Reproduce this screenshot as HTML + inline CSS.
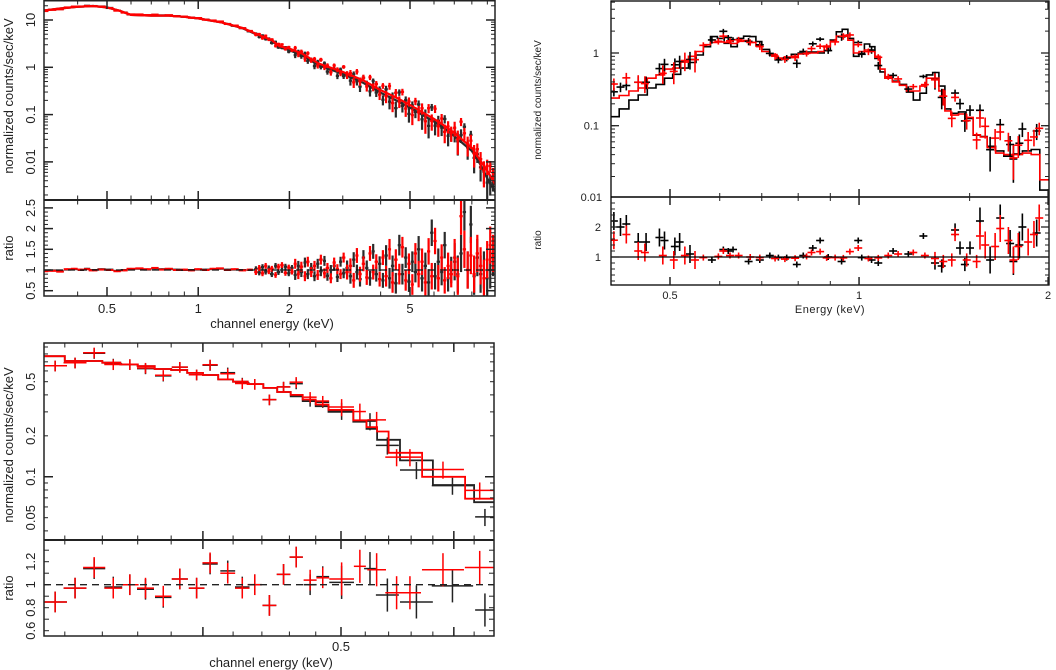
<!DOCTYPE html>
<html><head><meta charset="utf-8"><style>
html,body{margin:0;padding:0;background:#fff;}
svg{display:block;font-family:"Liberation Sans",sans-serif;}
</style></head><body>
<svg id="fig" width="1056" height="670" viewBox="0 0 1056 670" xmlns="http://www.w3.org/2000/svg">
<defs>
<clipPath id="c1t"><rect x="44" y="0" width="451" height="200"/></clipPath>
<clipPath id="c1r"><rect x="44" y="200" width="451" height="96"/></clipPath>
<clipPath id="c2t"><rect x="611" y="1" width="438" height="196"/></clipPath>
<clipPath id="c2r"><rect x="611" y="197" width="438" height="88"/></clipPath>
<clipPath id="c3t"><rect x="44" y="343" width="450" height="197"/></clipPath>
<clipPath id="c3r"><rect x="44" y="540" width="450" height="96"/></clipPath>
</defs>
<g id="root"></g>
</svg>
<script>
// ---------- Panel 1 data ----------
const p1ModelE = [0.3,0.35,0.4,0.45,0.5,0.55,0.6,0.7,0.8,0.9,1.0,1.2,1.4,1.6,1.75,1.85,2.0,2.2,2.5,3.0,3.5,4.0,4.5,5.0,5.5,6.0,6.5,7.0,7.5,8.0,8.5,9.0,9.6];
const p1ModelBlack = [15.5,17.5,19,19.8,18.5,15.7,12.8,12.4,12.3,11.7,10.8,8.8,6.7,4.6,3.65,2.7,2.3,1.8,1.1,0.72,0.47,0.29,0.2,0.14,0.098,0.071,0.051,0.035,0.024,0.0171,0.0092,0.0045,0.0022];
const p1ModelRed = [15.5,17.5,19,19.8,18.5,15.7,12.8,12.4,12.3,11.7,10.8,8.8,6.8,4.7,3.75,2.8,2.5,1.95,1.2,0.8,0.53,0.33,0.23,0.16,0.112,0.081,0.058,0.041,0.028,0.02,0.011,0.0065,0.0032];
const p1E = [0.31,0.33,0.35,0.37,0.39,0.41,0.43,0.45,0.48,0.51,0.54,0.57,0.6,0.64,0.68,0.72,0.76,0.8,0.85,0.9,0.95,1.0,1.06,1.12,1.18,1.25,1.32,1.4,1.48,
 1.55,1.59,1.63,1.67,1.71,1.75,1.8,1.84,1.89,1.94,1.99,2.04,2.09,2.14,2.19,2.25,2.3,2.36,2.42,2.48,2.54,2.61,2.67,2.74,2.81,2.88,2.95,3.02,3.1,3.18,3.26,3.34,3.42,3.51,3.6,3.69,3.78,3.87,3.97,4.07,4.17,4.28,4.38,4.49,4.61,4.72,4.84,4.96,5.09,5.21,5.34,5.48,5.62,5.76,5.9,6.05,6.2,6.36,6.51,6.68,6.84,7.02,7.19,7.37,7.56,7.75,7.94,8.14,8.34,8.55,8.77,8.99,9.2,9.4];
const p1RatioRed = [0.97,0.98,0.96,1.02,1.03,1.01,1.02,0.99,1.01,1.0,0.97,0.99,1.03,1.04,1.02,1.05,1.01,1.03,1.0,1.01,0.99,1.02,1.0,1.03,1.04,1.0,1.02,0.99,1.01,
 0.95,1.05,0.92,1.1,0.97,1.03,0.88,1.08,1.12,0.93,1.06,0.96,
 1.15,0.9,1.08,0.85,1.2,0.95,1.1,0.88,1.25,0.92,1.05,0.8,1.18,1.02,0.9,1.3,0.95,
 1.1,0.75,1.35,0.9,1.15,0.82,1.4,0.95,1.2,0.78,1.3,
 0.85,1.5,0.7,1.25,0.9,1.55,0.75,1.15,0.65,1.4,
 0.9,1.2,0.7,1.45,0.85,1.7,0.8,1.3,0.75,1.1,0.9,
 1.3,0.85,2.3,1.5,1.0,1.35,0.9,1.4,1.1,0.8,1.25,1.6,1.4];
const p1RatioBlack = [0.98,0.99,0.97,1.01,1.02,1.0,1.03,1.0,1.02,1.01,0.98,1.0,1.02,1.03,1.01,1.04,1.02,1.02,1.01,1.0,1.0,1.01,1.01,1.02,1.03,1.01,1.01,1.0,1.0,
 1.02,0.94,1.07,0.96,1.04,0.9,1.1,0.95,1.0,1.08,0.92,1.05,
 0.88,1.1,0.95,1.18,0.9,1.05,0.85,1.15,0.97,1.22,0.86,1.0,1.1,0.83,1.2,0.92,1.05,
 0.85,1.25,0.95,0.78,1.3,1.05,0.8,1.45,0.9,1.15,0.75,
 1.35,0.8,1.1,0.68,1.6,0.9,1.3,0.72,1.2,0.95,
 1.5,0.8,1.1,0.7,1.9,0.85,1.2,0.95,1.6,0.8,1.0,
 1.2,0.9,1.4,2.4,1.0,2.1,0.85,1.3,0.9,1.0,0.8,1.0,1.3];
const p1ErrEdges = [0,1.5,2.05,3.05,4.1,5.25,6.9,10];
const p1ErrVals = [0.02,0.07,0.12,0.18,0.25,0.32,0.45];
const p1XTicks = [0.5,1,2,5];
const p1XTickLabels = ["0.5","1","2","5"];
const p1YTicks = [0.01,0.1,1,10];
const p1YTickLabels = ["0.01","0.1","1","10"];
const p1RTicks = [0.5,1,1.5,2,2.5];
const p1RTickLabels = ["0.5","1","1.5","2","2.5"];

// ---------- Panel 2 data ----------
const p2ModelE = [0.40,0.415,0.43,0.445,0.46,0.475,0.49,0.505,0.52,0.535,0.55,0.565,0.58,0.595,0.61,0.625,0.64,0.655,0.67,0.685,0.70,0.72,0.74,0.76,0.78,0.80,0.83,0.86,0.88,0.90,0.92,0.94,0.96,0.98,1.00,1.02,1.04,1.06,1.08,1.10,1.13,1.16,1.19,1.22,1.25,1.28,1.31,1.34,1.37,1.40,1.44,1.48,1.52,1.56,1.60,1.65,1.70,1.76,1.82,1.88,1.94,2.01];
const p2ModelBlack = [0.133,0.17,0.225,0.264,0.33,0.37,0.45,0.51,0.62,0.74,0.94,1.22,1.68,1.59,1.36,1.22,1.59,1.7,1.68,1.44,1.12,0.94,0.82,0.87,0.96,1.0,1.03,1.0,1.08,1.51,1.96,2.12,1.59,0.9,0.98,1.33,1.22,0.84,0.55,0.45,0.41,0.37,0.29,0.225,0.28,0.50,0.54,0.35,0.17,0.148,0.155,0.126,0.074,0.071,0.052,0.045,0.038,0.041,0.045,0.047,0.013];
const p2ModelRed = [0.24,0.26,0.3,0.33,0.45,0.5,0.6,0.62,0.75,0.9,1.05,1.3,1.4,1.42,1.4,1.35,1.45,1.48,1.4,1.25,1.05,0.95,0.85,0.88,0.9,0.97,1.0,1.05,1.25,1.45,1.7,1.75,1.5,1.0,1.05,1.1,1.05,0.9,0.6,0.45,0.4,0.36,0.3,0.3,0.35,0.45,0.45,0.3,0.16,0.14,0.145,0.13,0.075,0.07,0.05,0.042,0.04,0.04,0.042,0.04,0.018];
const p2RedE = [0.407,0.426,0.445,0.456,0.487,0.507,0.528,0.548,0.565,0.597,0.608,0.623,0.643,0.671,0.695,0.735,0.762,0.791,0.825,0.840,0.867,0.888,0.916,0.944,0.967,0.997,1.035,1.073,1.113,1.154,1.220,1.273,1.321,1.362,1.405,1.422,1.484,1.539,1.558,1.588,1.647,1.678,1.729,1.761,1.793,1.859,1.899,1.936];
const p2RedRatio = [1.56,1.75,1.2,1.15,1.05,0.9,1.05,0.9,0.98,1.02,1.2,1.05,1.05,1.0,0.98,0.95,0.93,0.96,1.02,1.15,1.18,0.97,0.98,0.97,1.18,1.3,0.95,0.97,1.05,1.1,1.15,1.05,0.95,0.85,0.9,1.75,0.9,0.85,1.7,1.4,1.35,1.95,1.55,0.9,1.35,1.5,1.75,2.3];
const p2BlackE = [0.407,0.417,0.426,0.445,0.458,0.481,0.49,0.509,0.518,0.538,0.583,0.608,0.619,0.630,0.667,0.695,0.721,0.744,0.767,0.796,0.815,0.844,0.867,0.893,0.938,0.997,1.01,1.047,1.073,1.133,1.198,1.266,1.321,1.354,1.422,1.448,1.474,1.502,1.558,1.617,1.678,1.740,1.761,1.800,1.82,1.918];
const p2BlackRatio = [2.2,2.0,2.1,1.5,1.5,1.65,1.55,1.35,1.5,1.1,0.9,1.25,1.2,1.25,0.85,0.9,1.05,0.98,0.98,0.75,1.05,1.3,1.55,1.0,0.85,1.55,0.98,0.9,0.8,1.2,1.1,1.7,0.8,0.7,1.9,1.3,0.75,1.3,2.2,0.9,2.3,1.45,0.85,1.4,2.0,1.8];
const p2ErrEdges = [0,0.55,1.3,1.55,3];
const p2ErrVals = [0.3,0.1,0.22,0.45];
const p2XTicks = [0.5,1,2];
const p2XTickLabels = ["0.5","1","2"];
const p2YTicks = [0.1,1];
const p2YTickLabels = ["0.1","1"];
const p2RTicks = [1,2];
const p2RTickLabels = ["1","2"];

// ---------- Panel 3 data ----------
const p3EdgesBlack = [0.309,0.320,0.340,0.350,0.360,0.370,0.380,0.390,0.400,0.410,0.420,0.430,0.441,0.451,0.461,0.470,0.480,0.490,0.510,0.521,0.530,0.550,0.580,0.620,0.641];
const p3ModelBlack = [0.77,0.71,0.69,0.67,0.65,0.62,0.61,0.58,0.56,0.52,0.5,0.48,0.45,0.42,0.39,0.36,0.33,0.30,0.254,0.225,0.187,0.132,0.087,0.065];
const p3EdgesRed = [0.309,0.320,0.340,0.350,0.360,0.370,0.380,0.390,0.400,0.410,0.420,0.430,0.441,0.451,0.461,0.470,0.480,0.490,0.510,0.521,0.530,0.540,0.570,0.611,0.641];
const p3ModelRed = [0.77,0.71,0.69,0.67,0.65,0.62,0.61,0.58,0.56,0.52,0.5,0.48,0.45,0.42,0.40,0.37,0.34,0.31,0.26,0.232,0.215,0.15,0.10,0.069];
const p3RedE = [0.3151,0.3254,0.3356,0.3461,0.3555,0.3646,0.3752,0.3854,0.3960,0.4047,0.4164,0.4263,0.4350,0.4454,0.4557,0.4651,0.4757,0.4855,0.5006,0.5155,0.5297,0.5471,0.5590,0.5899,0.6258];
const p3RedRatio = [0.85,0.97,1.15,0.97,1.0,0.97,0.9,1.05,0.97,1.19,1.1,0.97,1.0,0.82,1.09,1.24,1.04,1.06,1.05,1.16,1.13,0.93,0.93,1.13,1.15];
const p3RedXErr = [0.006,0.006,0.006,0.005,0.005,0.005,0.005,0.005,0.005,0.005,0.005,0.005,0.005,0.005,0.005,0.005,0.005,0.005,0.01,0.005,0.008,0.01,0.01,0.02,0.015];
const p3BlackE = [0.3151,0.3254,0.3356,0.3461,0.3555,0.3646,0.3752,0.3854,0.3960,0.4047,0.4164,0.4263,0.4350,0.4454,0.4557,0.4651,0.4757,0.4855,0.5006,0.524,0.539,0.565,0.599,0.631];
const p3BlackRatio = [0.85,0.97,1.14,0.98,1.0,0.96,0.89,1.05,0.97,1.18,1.12,0.98,1.0,0.82,1.09,1.24,1.0,1.07,1.02,1.14,0.91,0.85,0.99,0.78];
const p3BlackXErr = [0.006,0.006,0.006,0.005,0.005,0.005,0.005,0.005,0.005,0.005,0.005,0.005,0.005,0.005,0.005,0.005,0.005,0.005,0.01,0.005,0.01,0.015,0.02,0.01];
const p3XTicks = [0.4,0.5,0.6];
const p3XTickLabels = ["","0.5",""];
const p3YTicks = [0.05,0.1,0.2,0.5];
const p3YTickLabels = ["0.05","0.1","0.2","0.5"];
const p3RTicks = [0.6,0.8,1,1.2];
const p3RTickLabels = ["0.6","0.8","1","1.2"];

// ---------- helpers ----------
const NS = "http://www.w3.org/2000/svg";
const root = document.getElementById('root');
function mk(tag, attrs, parent){ const e=document.createElementNS(NS,tag); for(const k in attrs) e.setAttribute(k,attrs[k]); (parent||root).appendChild(e); return e; }
function grp(name, clip){ const g=mk('g', clip?{'clip-path':'url(#'+clip+')'}:{});
  
  
  return g; }
const L = Math.log10;
function logX(v0,px0,ppd){ return v=>px0+ppd*L(v/v0); }
function interpLog(E, V, e){
  if(e<=E[0]) return V[0];
  for(let i=1;i<E.length;i++){ if(e<=E[i]){ const t=(L(e)-L(E[i-1]))/(L(E[i])-L(E[i-1])); return Math.pow(10, L(V[i-1])+t*(L(V[i])-L(V[i-1]))); } }
  return V[V.length-1];
}
function stepVal(E, V, e){ for(let i=V.length-1;i>=0;i--){ if(e>=E[i]) return V[i]; } return V[0]; }
function band(edges, vals, e){ for(let i=0;i<vals.length;i++){ if(e<edges[i+1]) return vals[i]; } return vals[vals.length-1]; }
function cross(g, x1,x2,y, yTop,yBot, col, w){
  mk('line',{x1:x1,x2:x2,y1:y,y2:y,stroke:col,'stroke-width':w},g);
  mk('line',{x1:(x1+x2)/2,x2:(x1+x2)/2,y1:yTop,y2:yBot,stroke:col,'stroke-width':w},g);
}
function stepPath(edges, vals, sx, sy){ let d=''; for(let i=0;i<vals.length;i++){ const x1=sx(edges[i]), x2=sx(edges[i+1]), y=sy(vals[i]); d+=(i===0?'M':'L')+x1.toFixed(1)+','+y.toFixed(1)+'L'+x2.toFixed(1)+','+y.toFixed(1); } return d; }
function tickLine(g,x1,y1,x2,y2,w){ mk('line',{x1:x1,y1:y1,x2:x2,y2:y2,stroke:'#222','stroke-width':w||1},g); }
function text(g, x, y, s, opts){
  const t = mk('text', Object.assign({x:x,y:y,'font-size':13,fill:'#222','text-anchor':'middle'}, opts||{}), g);
  t.textContent = s; return t;
}
function xLogTicks(g, sx, lo, hi, yTopEdge, yBotEdge, majors, minorList, len){
  minorList.forEach(v=>{ if(v>lo&&v<hi){ const x=sx(v); tickLine(g,x,yTopEdge,x,yTopEdge+len/2); tickLine(g,x,yBotEdge,x,yBotEdge-len/2);} });
  majors.forEach(v=>{ const x=sx(v); tickLine(g,x,yTopEdge,x,yTopEdge+len,1.5); tickLine(g,x,yBotEdge,x,yBotEdge-len,1.5); });
}
function yTicks(g, sy, vals, xl, xr, len, w){ vals.forEach(v=>{ const y=sy(v); tickLine(g,xl,y,xl+len,y,w); tickLine(g,xr,y,xr-len,y,w); }); }
function logMinors(lo,hi){ const out=[]; for(let d=Math.floor(L(lo));d<=Math.ceil(L(hi));d++){ for(let k=1;k<10;k++){ const v=k*Math.pow(10,d); if(v>=lo&&v<=hi) out.push(v);} } return out; }
function linMinors(lo,hi,step){ const out=[]; for(let v=Math.ceil(lo/step)*step; v<=hi+1e-9; v+=step) out.push(+v.toFixed(4)); return out; }

// ================= PANEL 1 =================
(function(){
  const sx = logX(0.5,107,303);
  const sy = v=>20-47.3*L(v/10);
  const sr = v=>270-41.4*(v-1);
  const X0=44,X1=495,T=0,M=200,B=296;
  const P = grp('panel-1');
  const gt = grp('panel-1-counts-plot','c1t'); P.appendChild(gt);
  const hw = i=> (i<p1E.length-1? (p1E[i+1]-p1E[i])/2 : (p1E[i]-p1E[i-1])/2);
  [[p1RatioBlack,p1ModelBlack,'#2a2a2a','black'],[p1RatioRed,p1ModelRed,'#f00','red']].forEach(([R,M0,col,nm])=>{
    const gs = grp('data-'+nm,null); gt.appendChild(gs);
    
    p1E.forEach((e,i)=>{
      const m=interpLog(p1ModelE,M0,e), v=m*R[i], er=m*band(p1ErrEdges,p1ErrVals,e);
      cross(gs, sx(e-hw(i)), sx(e+hw(i)), sy(v), sy(v+er), sy(Math.max(v-er,1e-4)), col, e>1.5?2.2:2);
    });
    let d=''; p1ModelE.forEach((e,i)=>{ d+=(i?'L':'M')+sx(e).toFixed(1)+','+sy(M0[i]).toFixed(1); });
    const pth = mk('path',{d:d,fill:'none',stroke:col,'stroke-width':2.2},gt);
    
    
  });
  const gr = grp('panel-1-ratio-plot','c1r'); P.appendChild(gr);
  [[p1RatioBlack,'#2a2a2a','black'],[p1RatioRed,'#f00','red']].forEach(([R,col,nm])=>{
    const gs = grp('ratio-'+nm,null); gr.appendChild(gs);
    
    p1E.forEach((e,i)=>{ const er=band(p1ErrEdges,p1ErrVals,e); cross(gs, sx(e-hw(i)), sx(e+hw(i)), sr(R[i]), sr(R[i]+er), sr(R[i]-er), col, e>1.5?2.2:2); });
  });
  const dl = mk('line',{x1:X0,x2:X1,y1:sr(1),y2:sr(1),stroke:'#111','stroke-width':1.3,'stroke-dasharray':'7,5'},gr);
  
  
  const ax = grp('panel-1-axes'); P.appendChild(ax);
  mk('rect',{x:X0,y:T+0.75,width:X1-X0,height:B-T-0.75,fill:'none',stroke:'#222','stroke-width':1.5},ax);
  mk('line',{x1:X0,x2:X1,y1:M,y2:M,stroke:'#222','stroke-width':2},ax);
  const xmin=[0.3,0.4,0.6,0.7,0.8,0.9,3,4,6,7,8,9];
  xLogTicks(ax, sx, 0.3, 9.6, T, M, p1XTicks, xmin, 9);
  xLogTicks(ax, sx, 0.3, 9.6, M, B, p1XTicks, xmin, 9);
  yTicks(ax, sy, logMinors(0.0017,25), X0, X1, 4);
  yTicks(ax, sy, p1YTicks, X0, X1, 9, 1.5);
  yTicks(ax, sr, linMinors(0.5,2.5,0.1), X0, X1, 4);
  yTicks(ax, sr, p1RTicks, X0, X1, 9, 1.5);
  p1XTicks.forEach((v,i)=>{ const t=text(ax, sx(v), 313, p1XTickLabels[i]);
      });
  p1YTicks.forEach((v,i)=>{ const y=sy(v); const t=text(ax, 35, y, p1YTickLabels[i], {transform:'rotate(-90 35 '+y+')'});
      });
  p1RTicks.forEach((v,i)=>{ const y=sr(v); const t=text(ax, 35, y, p1RTickLabels[i], {transform:'rotate(-90 35 '+y+')'});
      });
  const yt=text(ax, 13, 96, 'normalized counts/sec/keV', {transform:'rotate(-90 13 96)'});
   
  const rt=text(ax, 13, 248, 'ratio', {transform:'rotate(-90 13 248)'});
   
  const xt=text(ax, 272, 328, 'channel energy (keV)');
   
})();

// ================= PANEL 2 =================
(function(){
  const sx = logX(0.5,670,628);
  const sy = v=>53-72.7*L(v);
  const sr = v=>257-30*(v-1);
  const X0=611,X1=1049,T=1,M=197,B=285;
  const P = grp('panel-2');
  const gt = grp('panel-2-counts-plot','c2t'); P.appendChild(gt);
  [[p2ModelBlack,'#000','black'],[p2ModelRed,'#f00','red']].forEach(([V,col,nm])=>{
    const pth=mk('path',{d:stepPath(p2ModelE,V,sx,sy),fill:'none',stroke:col,'stroke-width':1.6},gt);
    
    
  });
  const gr = grp('panel-2-ratio-plot','c2r'); P.appendChild(gr);
  [[p2BlackE,p2BlackRatio,p2ModelBlack,'#000','black'],[p2RedE,p2RedRatio,p2ModelRed,'#f00','red']].forEach(([E,R,V,col,nm])=>{
    const gs=grp('p2-data-'+nm); gt.appendChild(gs);
    
    const gq=grp('p2-ratio-'+nm); gr.appendChild(gq);
    
    E.forEach((e,i)=>{
      const m=stepVal(p2ModelE,V,e), er=band(p2ErrEdges,p2ErrVals,e), v=m*R[i], dv=m*er;
      const hx=4;
      cross(gs, sx(e)-hx, sx(e)+hx, sy(v), sy(v+dv), sy(Math.max(v-dv,0.005)), col, 1.6);
      cross(gq, sx(e)-hx, sx(e)+hx, sr(R[i]), sr(R[i]+er), sr(R[i]-er), col, 1.6);
    });
  });
  const ul=mk('line',{x1:X0,x2:X1,y1:sr(1),y2:sr(1),stroke:'#000','stroke-width':1.3},gr);
   
  const ax = grp('panel-2-axes'); P.appendChild(ax);
  mk('rect',{x:X0,y:T,width:X1-X0,height:B-T,fill:'none',stroke:'#000','stroke-width':1.3},ax);
  mk('line',{x1:X0,x2:X1,y1:M,y2:M,stroke:'#000','stroke-width':1.5},ax);
  const xmin=[0.6,0.7,0.8,0.9,1.5];
  xLogTicks(ax, sx, 0.4, 2.01, T, M, p2XTicks, xmin, 8);
  xLogTicks(ax, sx, 0.4, 2.01, M, B, p2XTicks, xmin, 8);
  yTicks(ax, sy, logMinors(0.011,5), X0, X1, 4);
  yTicks(ax, sy, p2YTicks, X0, X1, 8, 1.3);
  yTicks(ax, sr, linMinors(0.2,2.8,0.2), X0, X1, 4);
  yTicks(ax, sr, p2RTicks, X0, X1, 8, 1.3);
  p2XTicks.forEach((v,i)=>{ const t=text(ax, sx(v), 299, p2XTickLabels[i], {'font-size':11});
      });
  p2YTicks.forEach((v,i)=>{ const t=text(ax, 599, sy(v)+4, p2YTickLabels[i], {'font-size':11,'text-anchor':'end'});
      });
  const t01=text(ax, 602, 201, '0.01', {'font-size':11,'text-anchor':'end'});
   
  p2RTicks.forEach((v,i)=>{ const t=text(ax, 601, sr(v)+4, p2RTickLabels[i], {'font-size':11,'text-anchor':'end'});
      });
  const yt=text(ax, 541, 100, 'normalized counts/sec/keV', {'font-size':10,transform:'rotate(-90 541 100)'});
   
  const rt=text(ax, 541, 240, 'ratio', {'font-size':10,transform:'rotate(-90 541 240)'});
   
  const xt=text(ax, 830, 313, 'Energy (keV)', {'font-size':11,'letter-spacing':'0.5'});
   
})();

// ================= PANEL 3 =================
(function(){
  const sx = logX(0.5,341,1425);
  const sy = v=>381.7-136*L(v/0.5);
  const sr = v=>584.7-115*(v-1);
  const X0=44,X1=494,T=343,M=540,B=636;
  const P = grp('panel-3');
  const gt = grp('panel-3-counts-plot','c3t'); P.appendChild(gt);
  const gr = grp('panel-3-ratio-plot','c3r'); P.appendChild(gr);
  const errFrac = 0.09;
  [[p3BlackE,p3BlackRatio,p3BlackXErr,p3EdgesBlack,p3ModelBlack,'#222','black'],[p3RedE,p3RedRatio,p3RedXErr,p3EdgesRed,p3ModelRed,'#f00','red']].forEach(([E,R,XE,ED,V,col,nm])=>{
    const gs=grp('p3-data-'+nm); gt.appendChild(gs);
    
    const gq=grp('p3-ratio-'+nm); gr.appendChild(gq);
    
    E.forEach((e,i)=>{
      const m=stepVal(ED,V,e), v=m*R[i], er=(e>0.5?errFrac*1.6:errFrac);
      cross(gs, sx(e-XE[i]), sx(e+XE[i]), sy(v), sy(v*(1+er)), sy(v*(1-er)), col, 1.5);
      cross(gq, sx(e-XE[i]), sx(e+XE[i]), sr(R[i]), sr(R[i]+er*1.0), sr(R[i]-er*1.0), col, 1.5);
    });
    const pth=mk('path',{d:stepPath(ED,V,sx,sy),fill:'none',stroke:col,'stroke-width':1.8},gt);
    
    
  });
  const dl=mk('line',{x1:X0,x2:X1,y1:sr(1),y2:sr(1),stroke:'#222','stroke-width':1.3,'stroke-dasharray':'7,5'},gr);
   
  const ax = grp('panel-3-axes'); P.appendChild(ax);
  mk('rect',{x:X0,y:T,width:X1-X0,height:B-T,fill:'none',stroke:'#222','stroke-width':1.5},ax);
  mk('line',{x1:X0,x2:X1,y1:M,y2:M,stroke:'#222','stroke-width':2},ax);
  const xmin=linMinors(0.32,0.64,0.02);
  xLogTicks(ax, sx, 0.31, 0.64, T, M, p3XTicks, xmin, 9);
  xLogTicks(ax, sx, 0.31, 0.64, M, B, p3XTicks, xmin, 9);
  yTicks(ax, sy, logMinors(0.035,0.95), X0, X1, 4);
  yTicks(ax, sy, [0.1], X0, X1, 9, 1.5);
  yTicks(ax, sr, linMinors(0.6,1.3,0.1), X0, X1, 5);
  p3XTicks.forEach((v,i)=>{ if(p3XTickLabels[i]){ const t=text(ax, sx(v), 651, p3XTickLabels[i]);
      } });
  p3YTicks.forEach((v,i)=>{ const y=sy(v); const t=text(ax, 35, y, p3YTickLabels[i], {transform:'rotate(-90 35 '+y+')'});
      });
  p3RTicks.forEach((v,i)=>{ const y=sr(v); const t=text(ax, 35, y, p3RTickLabels[i], {transform:'rotate(-90 35 '+y+')'});
      });
  const yt=text(ax, 13, 445, 'normalized counts/sec/keV', {transform:'rotate(-90 13 445)'});
   
  const rt=text(ax, 13, 588, 'ratio', {transform:'rotate(-90 13 588)'});
   
  const xt=text(ax, 271, 667, 'channel energy (keV)');
   
})();
</script>
</body></html>
